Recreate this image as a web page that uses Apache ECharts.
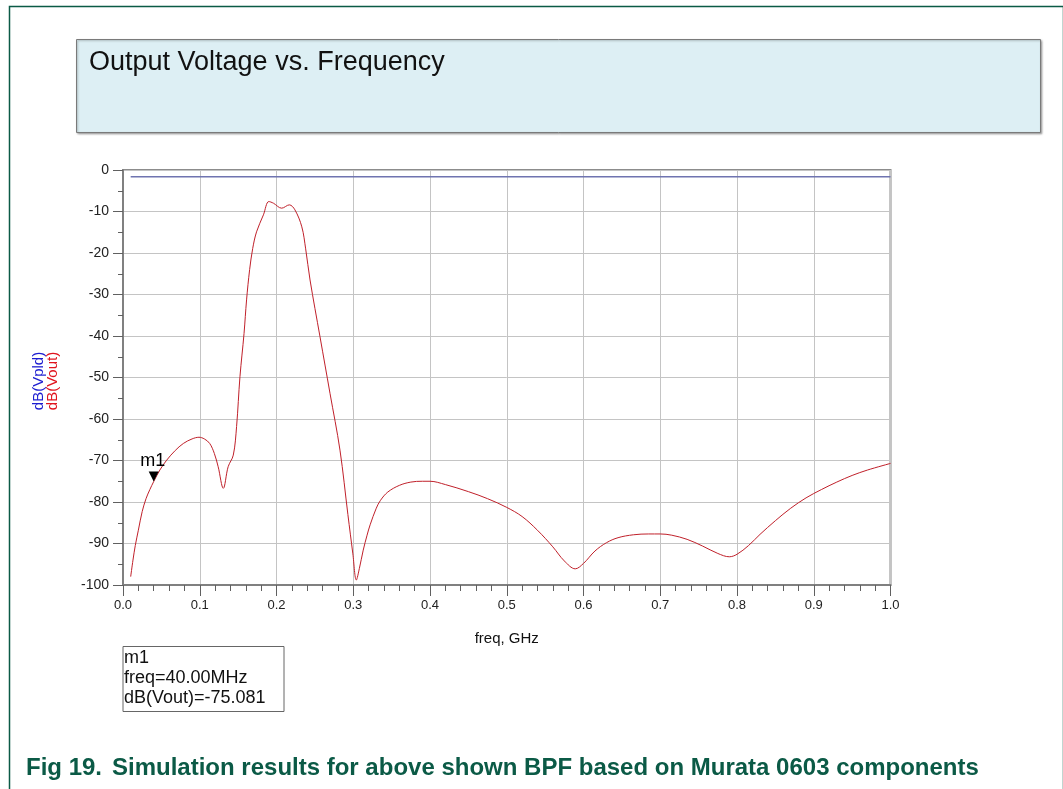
<!DOCTYPE html>
<html><head><meta charset="utf-8">
<script src="https://cdn.jsdelivr.net/npm/echarts@6.0.0/dist/echarts.min.js"></script>
<style>html,body{margin:0;padding:0;background:#fff}#c{width:1063px;height:789px}</style>
</head><body><div id="c"></div>
<script>
// ---- data ----
const freqGHz = [0.010,0.013,0.016,0.020,0.025,0.030,0.035,0.040,0.048,0.057,0.068,0.0786,0.090,0.099,0.106,0.113,0.119,0.124,0.1307,0.137,0.1437,0.148,0.1524,0.1577,0.161,0.165,0.169,0.174,0.183,0.190,0.196,0.2067,0.2167,0.224,0.233,0.238,0.2437,0.2567,0.2697,0.2827,0.293,0.2995,0.304,0.308,0.313,0.318,0.322,0.330,0.3355,0.345,0.360,0.375,0.390,0.400,0.420,0.450,0.475,0.500,0.520,0.540,0.560,0.575,0.5893,0.600,0.615,0.630,0.645,0.665,0.685,0.700,0.715,0.735,0.755,0.775,0.790,0.800,0.815,0.830,0.850,0.870,0.890,0.910,0.930,0.950,0.970,1.000];
const dBVout  = [-98.0,-94.0,-90.5,-86.8,-82.3,-79.2,-77.0,-75.08,-72.3,-69.9,-67.6,-65.9,-64.8,-64.4,-64.8,-65.9,-68.3,-71.5,-76.7,-71.5,-68.7,-61.8,-49.8,-39.4,-31.3,-24.0,-18.9,-14.9,-10.8,-7.6,-8.0,-9.2,-8.4,-9.6,-13.7,-19.0,-26.5,-40.2,-53.8,-67.5,-83.0,-92.5,-98.8,-96.0,-91.6,-88.0,-85.5,-81.5,-79.6,-77.6,-76.0,-75.2,-75.0,-75.0,-75.8,-77.5,-79.2,-81.3,-83.5,-86.8,-90.8,-94.2,-96.1,-94.8,-91.8,-89.8,-88.6,-87.9,-87.7,-87.7,-88.0,-89.0,-90.6,-92.4,-93.2,-92.6,-90.5,-87.8,-84.5,-81.5,-79.0,-77.0,-75.2,-73.6,-72.3,-70.7];
const freqVpld = [0.01, 1.0];
const dBVpld = [-1.6, -1.6];
const markerName = 'm1';
const markerFreq = 0.04;
const markerDb = -75.081;
const titleText = 'Output Voltage vs. Frequency';
const xAxisName = 'freq, GHz';
const yNames = ['dB(Vpld)', 'dB(Vout)'];
const markerLines = ['m1', 'freq=40.00MHz', 'dB(Vout)=-75.081'];
const captionNum = 'Fig 19.';
const captionText = 'Simulation results for above shown BPF based on Murata 0603 components';

const zip = (a, b) => a.map((v, i) => [v, b[i]]);
const FONT = '"Liberation Sans", Arial, sans-serif';

const chart = echarts.init(document.getElementById('c'), null, {renderer: 'canvas'});
chart.setOption({
  backgroundColor: '#ffffff',
  animation: false,
  grid: {left: 123, top: 170, right: 172.5, bottom: 204, show: true, borderColor: '#8c8c8c', borderWidth: 2, backgroundColor: 'transparent'},
  xAxis: {
    type: 'value', min: 0, max: 1, interval: 0.1,
    name: xAxisName, nameLocation: 'middle', nameGap: 46,
    nameTextStyle: {fontFamily: FONT, fontSize: 15, color: '#111'},
    axisLine: {show: true, onZero: false, lineStyle: {color: '#808080', width: 2}},
    axisTick: {show: true, length: 11, lineStyle: {color: '#606060', width: 1}},
    minorTick: {show: true, splitNumber: 5, length: 6, lineStyle: {color: '#606060', width: 1}},
    axisLabel: {margin: 14, fontFamily: FONT, fontSize: 13, color: '#222', formatter: v => v.toFixed(1)},
    splitLine: {show: true, lineStyle: {color: '#c4c4c4', width: 1}}
  },
  yAxis: {
    type: 'value', min: -100, max: 0, interval: 10,
    axisLine: {show: true, onZero: false, lineStyle: {color: '#808080', width: 2}},
    axisTick: {show: true, length: 10, lineStyle: {color: '#606060', width: 1}},
    minorTick: {show: true, splitNumber: 2, length: 5, lineStyle: {color: '#606060', width: 1}},
    axisLabel: {margin: 14, fontFamily: FONT, fontSize: 14, color: '#222'},
    splitLine: {show: true, lineStyle: {color: '#c4c4c4', width: 1}}
  },
  series: [
    {
      type: 'line', name: yNames[0], data: zip(freqVpld, dBVpld), symbol: 'none',
      lineStyle: {color: '#6f74b0', width: 1.5}
    },
    {
      type: 'line', name: yNames[1], data: zip(freqGHz, dBVout), symbol: 'none', smooth: 0.35,
      lineStyle: {color: '#c0202a', width: 1},
      markPoint: {
        data: [{coord: [markerFreq, markerDb], name: markerName}],
        symbol: 'triangle', symbolRotate: 180, symbolSize: [10, 10], symbolOffset: [0, -5],
        itemStyle: {color: '#000'},
        label: {show: true, position: 'top', distance: 2, offset: [-1, 0], formatter: markerName, fontFamily: FONT, fontSize: 18, color: '#000'}
      }
    }
  ],
  graphic: [
    {type: 'rect', left: 7, top: 4, shape: {width: 1054, height: 820}, style: {fill: 'none', stroke: '#0b5a46', lineWidth: 1.5}, silent: true},
    {type: 'rect', left: 76, top: 39, shape: {width: 964, height: 93}, style: {fill: '#ddeff4', stroke: '#7a7a7a', lineWidth: 1, shadowBlur: 2, shadowColor: 'rgba(0,0,0,0.3)', shadowOffsetX: 1, shadowOffsetY: 1}, silent: true},
    {type: 'text', left: 89, top: 49, style: {text: titleText, font: '27px ' + FONT, fill: '#111'}},
    {type: 'text', x: 39, y: 381, rotation: Math.PI / 2, style: {text: yNames[0], font: '15px ' + FONT, fill: '#1c1cd0', align: 'center', verticalAlign: 'middle'}},
    {type: 'text', x: 53, y: 381, rotation: Math.PI / 2, style: {text: yNames[1], font: '15px ' + FONT, fill: '#e0141e', align: 'center', verticalAlign: 'middle'}},
    {type: 'rect', left: 122.5, top: 646, shape: {width: 161, height: 65}, style: {fill: '#fff', stroke: '#666', lineWidth: 1}, silent: true},
    {type: 'text', left: 124, top: 648, style: {text: markerLines.join('\n'), font: '18px ' + FONT, lineHeight: 20, fill: '#111'}},
    {type: 'text', left: 26, top: 756, style: {text: captionNum, font: 'bold 24px ' + FONT, fill: '#0b5a46'}},
    {type: 'text', left: 112, top: 756, style: {text: captionText, font: 'bold 24px ' + FONT, fill: '#0b5a46'}}
  ]
});
</script>
</body></html>
